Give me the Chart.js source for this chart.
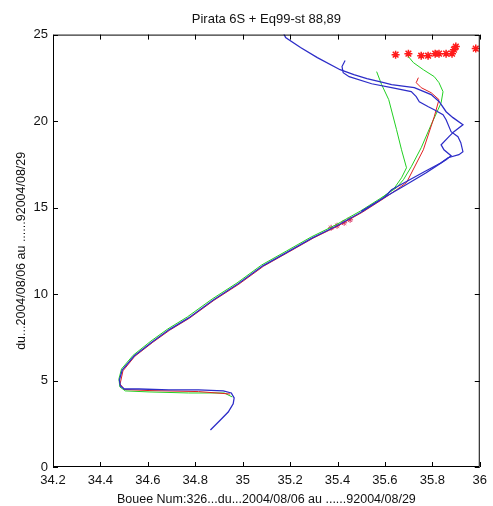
<!DOCTYPE html>
<html>
<head>
<meta charset="utf-8">
<script src="https://cdn.jsdelivr.net/npm/chart.js@4"></script>
<style>
  body { margin: 0; background: #fff; }
  canvas { display: block; }
</style>
</head>
<body>
<canvas id="chart" width="493" height="506"></canvas>
<script>
// axis ticks
const xTickValues = [34.2, 34.4, 34.6, 34.8, 35, 35.2, 35.4, 35.6, 35.8, 36];
const xTickLabels = ["34.2", "34.4", "34.6", "34.8", "35", "35.2", "35.4", "35.6", "35.8", "36"];
const yTickValues = [0, 5, 10, 15, 20, 25];
const yTickLabels = ["0", "5", "10", "15", "20", "25"];

// blue profiles
const blueA_x = [34.864, 34.906, 34.939, 34.960, 34.964, 34.952, 34.918, 34.814, 34.689, 34.563, 34.501, 34.484, 34.480, 34.492, 34.542, 34.618, 34.689, 34.772, 34.876, 34.981, 35.085, 35.190, 35.294, 35.398, 35.503, 35.595, 35.682, 35.774, 35.858, 35.879, 35.849, 35.837, 35.870, 35.891, 35.929, 35.887, 35.858, 35.829, 35.795, 35.724, 35.628, 35.595, 35.524, 35.469, 35.411, 35.315, 35.244, 35.181, 35.172];
const blueA_y = [2.14, 2.72, 3.18, 3.65, 3.99, 4.28, 4.40, 4.46, 4.46, 4.51, 4.51, 4.69, 5.03, 5.61, 6.42, 7.23, 7.93, 8.62, 9.66, 10.59, 11.63, 12.44, 13.25, 13.95, 14.76, 15.57, 16.26, 17.01, 17.77, 18.00, 18.34, 18.63, 19.10, 19.39, 19.79, 20.20, 20.54, 21.12, 21.53, 21.93, 22.11, 22.22, 22.45, 22.69, 22.97, 23.67, 24.25, 24.83, 25.1];
const blueB_x = [35.500, 35.598, 35.628, 35.766, 35.837, 35.866, 35.912, 35.929, 35.920, 35.908, 35.879, 35.858, 35.845, 35.808, 35.783, 35.745, 35.732, 35.711, 35.628, 35.544, 35.449, 35.424, 35.419, 35.432];
const blueB_y = [14.78, 15.60, 16.03, 17.07, 17.59, 17.88, 18.06, 18.23, 18.75, 19.10, 19.39, 20.08, 20.37, 20.66, 20.83, 21.12, 21.41, 21.70, 21.93, 22.16, 22.57, 22.80, 23.15, 23.50];

// green profiles
const green1_x = [34.956, 34.922, 34.772, 34.605, 34.505, 34.482, 34.478, 34.489, 34.538, 34.613, 34.684, 34.767, 34.871, 34.976, 35.080, 35.185, 35.289, 35.393, 35.498, 35.589, 35.599, 35.641, 35.670, 35.691, 35.670, 35.649, 35.616, 35.586, 35.565];
const green1_y = [4.05, 4.28, 4.28, 4.34, 4.40, 4.63, 5.09, 5.67, 6.46, 7.28, 7.98, 8.68, 9.71, 10.64, 11.68, 12.49, 13.30, 14.00, 14.81, 15.60, 15.68, 16.15, 16.72, 17.30, 18.34, 19.50, 21.24, 22.11, 22.86];
const green2_x = [35.589, 35.649, 35.678, 35.711, 35.753, 35.795, 35.824, 35.837, 35.845, 35.828, 35.808, 35.762, 35.720, 35.699];
const green2_y = [15.60, 16.15, 16.61, 17.36, 18.46, 19.79, 20.66, 21.06, 21.70, 22.22, 22.57, 22.97, 23.38, 23.73];

// red profile
const red_x = [34.947, 34.814, 34.605, 34.501, 34.483, 34.495, 34.545, 34.621, 34.692, 34.775, 34.879, 34.984, 35.088, 35.193, 35.297, 35.401, 35.506, 35.598, 35.649, 35.691, 35.762, 35.808, 35.828, 35.795, 35.753, 35.732, 35.741];
const red_y = [4.22, 4.36, 4.42, 4.48, 4.80, 5.56, 6.40, 7.21, 7.91, 8.60, 9.64, 10.57, 11.61, 12.42, 13.23, 13.93, 14.74, 15.55, 16.03, 16.44, 18.34, 20.25, 21.24, 21.64, 21.93, 22.22, 22.51];

// star markers
const starTop_x = [35.645, 35.699, 35.753, 35.782, 35.812, 35.828, 35.858, 35.883, 35.891, 35.899, 35.983];
const starTop_y = [23.84, 23.90, 23.78, 23.78, 23.90, 23.90, 23.90, 23.90, 24.13, 24.31, 24.19];
const starMid_x = [35.373, 35.398, 35.428, 35.453];
const starMid_y = [13.83, 13.95, 14.12, 14.29];

const FONT = "'Liberation Sans', Arial, sans-serif";

const toPoints = (xs, ys) => xs.map((x, i) => ({ x: x, y: ys[i] }));

const line = (xs, ys, color, width) => ({
  data: toPoints(xs, ys),
  showLine: true,
  borderColor: color,
  borderWidth: width,
  pointRadius: 0,
  tension: 0,
  fill: false,
});

const frameTicks = {
  id: "frameTicks",
  afterDatasetsDraw(chart) {
    const { ctx, chartArea: a, scales } = chart;
    ctx.save();
    ctx.strokeStyle = "#000";
    ctx.lineWidth = 1;
    ctx.beginPath();
    ctx.rect(a.left + 0.5, a.top + 0.5, a.right - a.left - 1, a.bottom - a.top - 1);
    xTickValues.forEach((v) => {
      const px = Math.round(scales.x.getPixelForValue(v)) + 0.5;
      ctx.moveTo(px, a.bottom);
      ctx.lineTo(px, a.bottom - 5);
      ctx.moveTo(px, a.top);
      ctx.lineTo(px, a.top + 5);
    });
    yTickValues.forEach((v) => {
      const py = Math.round(scales.y.getPixelForValue(v)) + 0.5;
      ctx.moveTo(a.left, py);
      ctx.lineTo(a.left + 5, py);
      ctx.moveTo(a.right, py);
      ctx.lineTo(a.right - 5, py);
    });
    ctx.stroke();
    ctx.restore();
  },
};

new Chart(document.getElementById("chart"), {
  type: "scatter",
  data: {
    datasets: [
      line(blueA_x, blueA_y, "#2d2dc8", 1.3),
      line(blueB_x, blueB_y, "#2d2dc8", 1.2),
      line(red_x, red_y, "#e02020", 1),
      line(green1_x, green1_y, "#22d022", 1),
      line(green2_x, green2_y, "#22d022", 1),
      {
        data: toPoints(starMid_x, starMid_y),
        pointStyle: "star",
        pointRadius: 3,
        borderColor: "#d83060",
        borderWidth: 1,
        showLine: false,
      },
      {
        data: toPoints(starTop_x, starTop_y),
        pointStyle: "star",
        pointRadius: 4,
        borderColor: "#ff1a1a",
        borderWidth: 1.5,
        showLine: false,
      },
    ],
  },
  options: {
    responsive: false,
    devicePixelRatio: 1,
    animation: false,
    layout: { padding: { top: 0, right: 9, bottom: 0, left: 0 } },
    plugins: {
      legend: { display: false },
      tooltip: { enabled: false },
      title: {
        display: true,
        fullSize: false,
        text: "Pirata 6S + Eq99-st 88,89",
        color: "#111",
        font: { family: FONT, size: 13, weight: "normal" },
        padding: { top: 12, bottom: 7 },
      },
    },
    scales: {
      x: {
        type: "linear",
        min: 34.2,
        max: 36,
        grid: { display: false, drawTicks: false },
        border: { display: false },
        afterBuildTicks: (scale) => {
          scale.ticks = xTickValues.map((v) => ({ value: v }));
        },
        afterFit: (scale) => {
          scale.height = 39;
        },
        ticks: {
          autoSkip: false,
          maxRotation: 0,
          padding: 6,
          color: "#111",
          font: { family: FONT, size: 13 },
          callback: (v, i) => xTickLabels[i],
        },
        title: {
          display: true,
          text: "Bouee Num:326...du...2004/08/06 au ......92004/08/29",
          color: "#111",
          font: { family: FONT, size: 12.5, lineHeight: 1 },
          padding: { top: 0, bottom: 0 },
        },
      },
      y: {
        type: "linear",
        min: 0,
        max: 25,
        grid: { display: false, drawTicks: false },
        border: { display: false },
        afterBuildTicks: (scale) => {
          scale.ticks = yTickValues.map((v) => ({ value: v }));
        },
        afterFit: (scale) => {
          scale.width = 53;
        },
        ticks: {
          autoSkip: false,
          padding: 5,
          color: "#111",
          font: { family: FONT, size: 13 },
          callback: (v, i) => yTickLabels[i],
        },
        title: {
          display: true,
          text: "du...2004/08/06 au ......92004/08/29",
          color: "#111",
          font: { family: FONT, size: 12.5, lineHeight: 1 },
          padding: { top: 15, bottom: 0 },
        },
      },
    },
  },
  plugins: [frameTicks],
});
</script>
</body>
</html>
